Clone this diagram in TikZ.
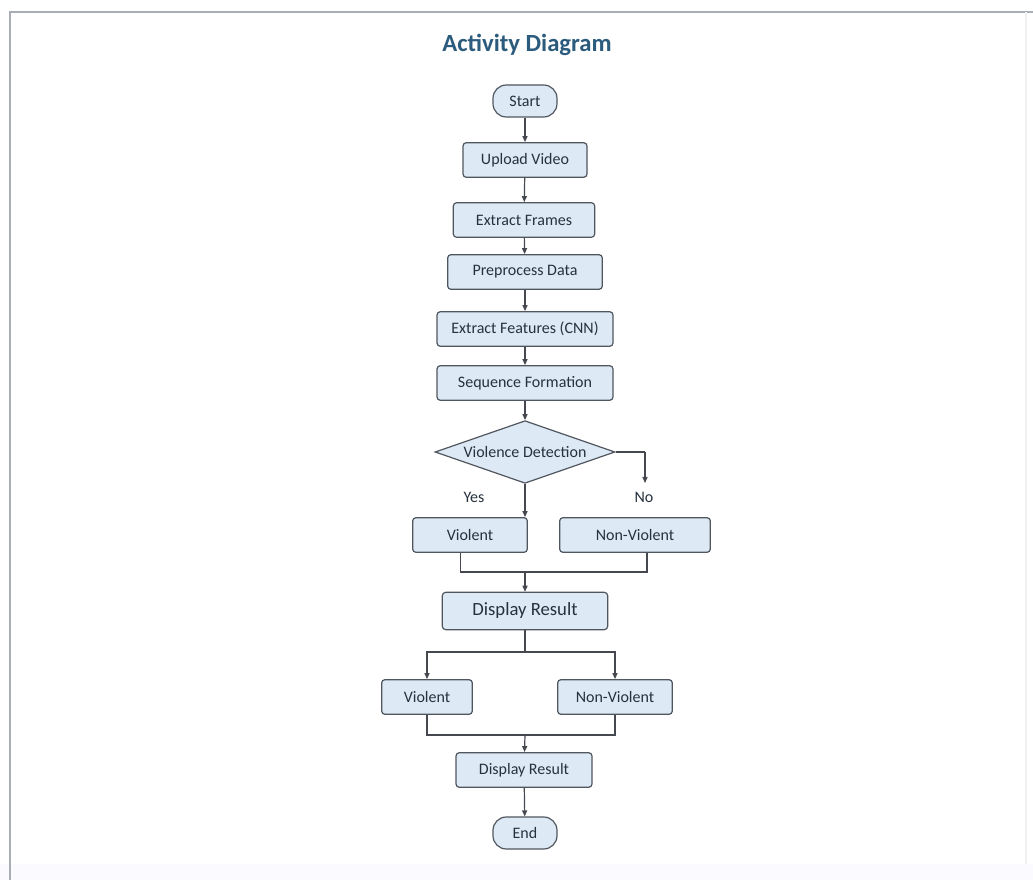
\documentclass[tikz,border=0pt]{standalone}
\usepackage{fontspec}
\setmainfont{Carlito}
\usetikzlibrary{shapes.geometric,arrows.meta}
\definecolor{boxfill}{HTML}{DDE9F5}
\definecolor{boxline}{HTML}{50565E}
\definecolor{linkline}{HTML}{45494F}
\definecolor{txt}{HTML}{27323F}
\definecolor{titleblue}{HTML}{2B5B7D}
\definecolor{frameline}{HTML}{A7AEB5}
\tikzset{
  stepbox/.style={draw=boxline, fill=boxfill, line width=0.9pt, rounded corners=2.5pt,
    text=txt, font=\fontsize{12}{14}\selectfont, minimum height=26pt, inner sep=2pt},
  terminal/.style={draw=boxline, fill=boxfill, line width=0.9pt, rounded corners=10pt,
    text=txt, font=\fontsize{12}{14}\selectfont, minimum height=24pt, minimum width=48pt},
  choice/.style={draw=boxline, fill=boxfill, line width=0.9pt, diamond, aspect=2.86, inner sep=0pt,
    text=txt, font=\fontsize{12}{14}\selectfont, minimum width=135pt, minimum height=47pt},
  flow/.style={draw=linkline, line width=0.9pt},
  arr/.style={flow, -{Triangle[length=4.5pt,width=3.8pt]}},
  lbl/.style={text=txt, font=\fontsize{12}{14}\selectfont}
}
\begin{document}
\begin{tikzpicture}[x=0.75pt,y=-0.75pt]
\useasboundingbox (0,0) rectangle (1033,880);
% outer panel
\fill[white] (0,0) rectangle (1033,880);
\fill[blue!2] (0,864) rectangle (1033,880);
\draw[frameline, line width=1.5pt] (10,880) -- (10,12) -- (1033,12);
\draw[gray!12, line width=0.8pt] (1026,12) -- (1026,864);

% title
\node[text=titleblue, font=\fontsize{18.5}{22}\selectfont\bfseries] (title) at (527,45) {Activity Diagram};

% main column
\node[terminal] (start) at (525,101) {Start};
\node[stepbox, minimum width=93pt] (upload) at (525,160) {Upload Video};
\node[stepbox, minimum width=106pt] (frames) at (524,220) {Extract Frames};
\node[stepbox, minimum width=116pt] (prep) at (525,272) {Preprocess Data};
\node[stepbox, minimum width=132pt] (feat) at (525,329) {Extract Features (CNN)};
\node[stepbox, minimum width=132pt] (seq) at (525,383) {Sequence Formation};
\node[choice] (dec) at (525,452) {Violence Detection};

\node[stepbox, minimum width=86pt] (v1) at (470,535) {Violent};
\node[stepbox, minimum width=113pt] (nv1) at (635,535) {Non-Violent};
\coordinate (nofork) at (645,452);
\node[lbl] (yes) at (474,497) {Yes};
\node[lbl] (no) at (644,497) {No};

\coordinate (m1) at (525,572);
\node[stepbox, minimum width=124pt, minimum height=28pt, font=\fontsize{14}{16}\selectfont] (dr1) at (525,611) {Display Result};

\coordinate (s2) at (525,652);
\node[stepbox, minimum width=68pt] (v2) at (427,697) {Violent};
\node[stepbox, minimum width=86pt] (nv2) at (615,697) {Non-Violent};

\coordinate (m2) at (525,735);
\node[stepbox, minimum width=102pt] (dr2) at (524,770) {Display Result};
\node[terminal] (end) at (525,833) {End};

% connectors
\draw[arr] (start) -- (upload);
\draw[arr] (upload) -- (frames);
\draw[arr] (frames) -- (prep);
\draw[arr] (prep) -- (feat);
\draw[arr] (feat) -- (seq);
\draw[arr] (seq) -- (dec);
\draw[arr] (dec.south) -- (dec.south |- v1.north);
\draw[flow] (dec.east) -- (nofork);
\draw[arr] (nofork) -- ++(0,31);

\draw[flow] ([xshift=-7pt]v1.south) |- (m1);
\draw[flow] ([xshift=9pt]nv1.south) |- (m1);
\draw[arr] (m1) -- (dr1);

\draw[flow] (dr1) -- (s2);
\draw[arr] (s2) -| (v2.north);
\draw[arr] (s2) -| (nv2.north);

\draw[flow] (v2.south) |- (m2);
\draw[flow] (nv2.south) |- (m2);
\draw[arr] (m2) -- (dr2);
\draw[arr] (dr2) -- (end);
\end{tikzpicture}
\end{document}
